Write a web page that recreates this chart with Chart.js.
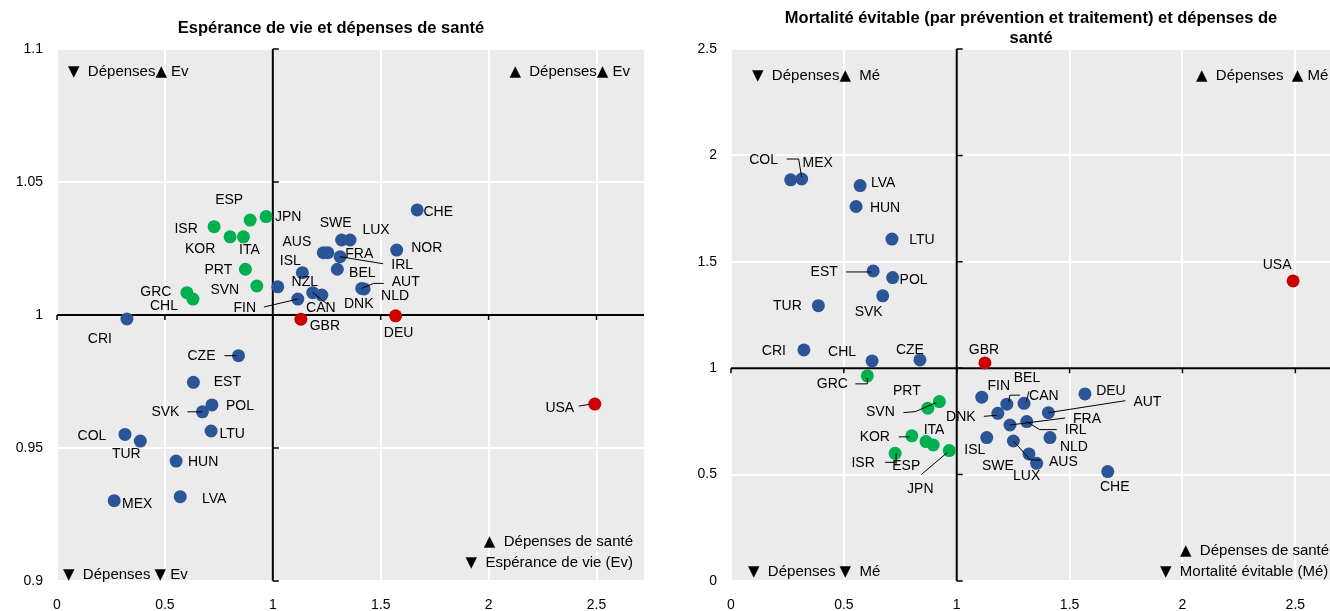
<!DOCTYPE html>
<html>
<head>
<meta charset="utf-8">
<script src="https://cdn.jsdelivr.net/npm/chart.js@4.4.1/dist/chart.umd.min.js"></script>
<style>
  html, body { margin: 0; padding: 0; background: #fff; overflow: hidden; width: 1330px; height: 611px; }
  #wrap { position: relative; width: 1330px; height: 611px; overflow: hidden; }
  #leChart { position: absolute; left: 0; top: 0; }
  #amChart { position: absolute; left: 674px; top: 0; }
</style>
</head>
<body>
<div id="wrap">
  <canvas id="leChart" width="665" height="611"></canvas>
  <canvas id="amChart" width="690" height="611"></canvas>
</div>
<script>
// Espérance de vie (ratio à la moyenne) vs dépenses de santé (ratio)
const leCountries = ['ESP','JPN','ISR','KOR','ITA','PRT','SVN','GRC','CHL','CRI','NZL','ISL','FIN','DNK','CAN','FRA','AUS','IRL','SWE','LUX','BEL','AUT','NLD','NOR','CHE','GBR','DEU','CZE','EST','POL','SVK','LTU','COL','TUR','HUN','MEX','LVA','USA'];
const leSpending = [0.895,0.969,0.728,0.802,0.864,0.873,0.926,0.602,0.630,0.324,1.023,1.137,1.116,1.185,1.227,1.234,1.255,1.312,1.319,1.358,1.299,1.412,1.423,1.574,1.669,1.130,1.569,0.841,0.632,0.718,0.674,0.714,0.315,0.386,0.552,0.265,0.571,2.492];
const leLifeExp = [1.0357,1.0370,1.0332,1.0294,1.0294,1.0172,1.0109,1.0084,1.0060,0.9985,1.0106,1.0159,1.0060,1.0084,1.0075,1.0234,1.0234,1.0219,1.0282,1.0282,1.0172,1.0100,1.0098,1.0244,1.0395,0.9984,0.9997,0.9847,0.9747,0.9662,0.9636,0.9564,0.9551,0.9526,0.9451,0.9302,0.9317,0.9665];
const leGroup = ['good','good','good','good','good','good','good','good','good','other','other','other','other','other','other','other','other','other','other','other','other','other','other','other','other','bad','bad','other','other','other','other','other','other','other','other','other','other','bad'];

// Mortalité évitable (ratio) vs dépenses de santé (ratio)
const amCountries = ['COL','MEX','LVA','HUN','LTU','EST','POL','SVK','TUR','CRI','CHL','CZE','GBR','USA','GRC','PRT','SVN','KOR','ITA','ESP','ISR','JPN','FIN','CAN','BEL','DNK','FRA','IRL','AUT','DEU','ISL','AUS','SWE','LUX','NLD','CHE'];
const amSpending = [0.313,0.2645,0.572,0.554,0.713,0.630,0.716,0.672,0.387,0.323,0.625,0.837,1.125,2.490,0.604,0.872,0.923,0.801,0.864,0.896,0.727,0.967,1.111,1.222,1.298,1.182,1.236,1.310,1.406,1.568,1.133,1.251,1.320,1.354,1.413,1.669];
const amMortality = [1.889,1.885,1.858,1.760,1.607,1.457,1.426,1.340,1.294,1.086,1.034,1.039,1.025,1.410,0.964,0.812,0.843,0.682,0.655,0.639,0.600,0.613,0.864,0.831,0.835,0.788,0.733,0.749,0.791,0.879,0.674,0.658,0.597,0.553,0.674,0.514];
const amGroup = ['other','other','other','other','other','other','other','other','other','other','other','other','bad','bad','good','good','good','good','good','good','good','good','other','other','other','other','other','other','other','other','other','other','other','other','other','other'];

const xTicks = [0, 0.5, 1, 1.5, 2, 2.5];

// label placement: [dx, dy, leader polylines] in pixels from the point
const leLabels = {
  ESP: [-21,-20], JPN: [22,1], ISR: [-28,2], KOR: [-30,12], ITA: [6,13], PRT: [-27,1], SVN: [-32,4],
  GRC: [-31,-1], CHL: [-29,7], CRI: [-27,20],
  FIN: [-53,9,[[[-34,8],[0,0]]]], NZL: [27,-5], ISL: [-12,-12], AUS: [-31,-11], SWE: [-6,-17], LUX: [26,-10],
  FRA: [36,1], IRL: [62,8,[[[0,0],[43,7]]]], BEL: [25,4], AUT: [44,-6,[[[0,0],[12,-5],[22,-5]]]], NLD: [31,7],
  DNK: [46,11,[[[0,0],[14,11]]]], CAN: [-1,13], NOR: [30,-2], CHE: [21,2], GBR: [24,7], DEU: [3,17],
  CZE: [-37,0,[[[-14,0],[-2,0]]]], EST: [34,0], POL: [28,1], SVK: [-37,0,[[[-15,0],[0,0]]]], LTU: [21,3],
  COL: [-33,2], TUR: [-14,13], HUN: [27,1], MEX: [23,3], LVA: [34,2], USA: [-35,4,[[[-16,2],[-4,0]]]]
};
const amLabels = {
  COL: [-38,-19,[[[-15,-20],[-3,-20],[0,-2]]]], MEX: [27,-17], LVA: [23,-2], HUN: [29,2], LTU: [30,1],
  EST: [-49,1,[[[-27,1],[-2,1]]]], POL: [21,3], SVK: [-14,16], TUR: [-31,1],
  CRI: [-30,1], CHL: [-30,-9], CZE: [-10,-10], GBR: [-1,-13], USA: [-16,-16],
  GRC: [-35,8,[[[-12,8],[0,8],[0,2]]]], PRT: [-21,-17], SVN: [-59,11,[[[-36,11],[-24,10],[-3,1]]]],
  KOR: [-37,1,[[[-13,1],[-2,1]]]], ITA: [8,-11], ESP: [-27,21],
  ISR: [-32,10,[[[-10,9],[1,9]],[[1,0],[1,12]]]], JPN: [-29,39,[[[-28,24],[-2,2]]]],
  FIN: [17,-11], CAN: [37,-8,[[[2,-2],[3,-9],[13,-9]]]], BEL: [3,-25,[[[2,-1],[5,-12]]]],
  DNK: [-37,4,[[[-14,3],[-1,2]]]], FRA: [77,-6,[[[0,0],[55,-7]]]], IRL: [49,9,[[[0,0],[13,8],[30,8]]]],
  AUT: [99,-11,[[[0,0],[77,-12]]]], DEU: [26,-3], ISL: [-12,13], AUS: [50,21,[[[0,0],[17,19],[27,19]]]],
  SWE: [-31,12], LUX: [-10,13], NLD: [24,10], CHE: [7,16]
};

const FONT = '"Liberation Sans", Arial, sans-serif';
const TRI_FONT = '15px "DejaVu Sans", sans-serif';
const NOTE_FONT = '15px ' + FONT;
const COLORS = { other: '#2c5597', good: '#00b050', bad: '#cc0000' };

Chart.defaults.font.family = FONT;
Chart.defaults.color = '#000';

const buildDatasets = (codes, xs, ys, groups) =>
  ['other', 'good', 'bad'].map(g => ({
    label: g,
    data: codes.map((c, i) => ({ x: xs[i], y: ys[i], code: c })).filter((p, i) => groups[i] === g),
    backgroundColor: COLORS[g],
    pointRadius: 6.5,
    pointHoverRadius: 6.5,
    borderWidth: 0
  }));

// draw a note where the triangles use a font with bigger glyphs
function drawNote(ctx, text, x, y, align) {
  const runs = text.split(/([▲▼])/).filter(s => s.length);
  const fontOf = s => (s === '▲' || s === '▼') ? TRI_FONT : NOTE_FONT;
  let total = 0;
  runs.forEach(s => { ctx.font = fontOf(s); total += ctx.measureText(s).width; });
  let cx = align === 'right' ? x - total : x;
  ctx.textAlign = 'left';
  runs.forEach(s => {
    ctx.font = fontOf(s);
    ctx.fillText(s, cx, y);
    cx += ctx.measureText(s).width;
  });
}

const decoPlugin = {
  id: 'deco',
  beforeDraw(chart) {
    const { ctx, chartArea: a } = chart;
    ctx.save();
    ctx.fillStyle = '#ebebeb';
    ctx.fillRect(a.left, a.top, a.right - a.left, a.bottom - a.top);
    ctx.restore();
  },
  beforeDatasetsDraw(chart, args, o) {
    const { ctx, chartArea: a, scales: { x, y } } = chart;
    const cx = x.getPixelForValue(1);
    const cy = y.getPixelForValue(1);
    ctx.save();
    ctx.strokeStyle = '#000';
    ctx.lineWidth = 2;
    ctx.beginPath();
    ctx.moveTo(cx, a.top); ctx.lineTo(cx, a.bottom);
    ctx.moveTo(a.left, cy); ctx.lineTo(a.right, cy);
    ctx.stroke();
    ctx.lineWidth = 1.5;
    ctx.beginPath();
    x.ticks.forEach(t => {
      const px = x.getPixelForValue(t.value);
      ctx.moveTo(px, cy); ctx.lineTo(px, cy + 5);
    });
    y.ticks.forEach(t => {
      const py = y.getPixelForValue(t.value);
      ctx.moveTo(cx, py); ctx.lineTo(cx + 6, py);
    });
    ctx.stroke();
    ctx.restore();
  },
  afterDatasetsDraw(chart, args, o) {
    const { ctx } = chart;
    ctx.save();
    ctx.font = '14px ' + FONT;
    ctx.fillStyle = '#000';
    ctx.strokeStyle = '#000';
    ctx.lineWidth = 1;
    ctx.textAlign = 'center';
    ctx.textBaseline = 'middle';
    chart.data.datasets.forEach((ds, di) => {
      chart.getDatasetMeta(di).data.forEach((pt, i) => {
        const code = ds.data[i].code;
        const p = o.labels[code];
        if (!p) return;
        ctx.fillText(code, pt.x + p[0], pt.y + p[1]);
        (p[2] || []).forEach(line => {
          ctx.beginPath();
          line.forEach(([dx, dy], k) => {
            if (k === 0) ctx.moveTo(pt.x + dx, pt.y + dy);
            else ctx.lineTo(pt.x + dx, pt.y + dy);
          });
          ctx.stroke();
        });
      });
    });
    ctx.restore();
  },
  afterDraw(chart, args, o) {
    const { ctx, chartArea: a } = chart;
    ctx.save();
    ctx.fillStyle = '#000';
    ctx.textBaseline = 'middle';
    ctx.font = 'bold 16.5px ' + FONT;
    ctx.textAlign = 'center';
    o.title.forEach((line, i) => ctx.fillText(line, o.titleX, o.titleY + i * 20));
    o.notes.forEach(n => drawNote(ctx, n.text, a.left + n.dx, a.top + n.dy, n.align));
    ctx.restore();
  }
};

const makeOptions = (yMin, yMax, yStep, rightPad, deco) => ({
  responsive: false,
  animation: false,
  events: [],
  layout: { padding: { top: 49, right: rightPad, left: 0, bottom: 0 } },
  plugins: { legend: { display: false }, tooltip: { enabled: false }, deco },
  scales: {
    x: {
      type: 'linear', min: 0, max: 2.72,
      afterBuildTicks: s => { s.ticks = xTicks.map(v => ({ value: v })); },
      afterFit: s => { s.height = 30; },
      ticks: { padding: 16, font: { size: 14 }, maxRotation: 0, autoSkip: false, callback: v => String(+v.toFixed(2)) },
      grid: { color: '#fff', lineWidth: 2, drawTicks: false },
      border: { display: false }
    },
    y: {
      type: 'linear', min: yMin, max: yMax,
      afterFit: s => { s.width = 57; },
      ticks: { stepSize: yStep, padding: 14, font: { size: 14 }, callback: v => String(+v.toFixed(2)) },
      grid: { color: '#fff', lineWidth: 2, drawTicks: false },
      border: { display: false }
    }
  }
});

new Chart(document.getElementById('leChart'), {
  type: 'scatter',
  data: { datasets: buildDatasets(leCountries, leSpending, leLifeExp, leGroup) },
  options: makeOptions(0.9, 1.1, 0.05, 21, {
    labels: leLabels,
    title: ['Espérance de vie et dépenses de santé'],
    titleX: 331, titleY: 28,
    notes: [
      { text: '▼  Dépenses▲ Ev', dx: 11, dy: 23, align: 'left' },
      { text: '▲  Dépenses▲ Ev', dx: 573, dy: 23, align: 'right' },
      { text: '▼  Dépenses ▼ Ev', dx: 6, dy: 526, align: 'left' },
      { text: '▲  Dépenses de santé', dx: 576, dy: 493, align: 'right' },
      { text: '▼  Espérance de vie (Ev)', dx: 576, dy: 514, align: 'right' }
    ]
  }),
  plugins: [decoPlugin]
});

new Chart(document.getElementById('amChart'), {
  type: 'scatter',
  data: { datasets: buildDatasets(amCountries, amSpending, amMortality, amGroup) },
  options: makeOptions(0, 2.5, 0.5, 19, {
    labels: amLabels,
    title: ['Mortalité évitable (par prévention et traitement) et dépenses de', 'santé'],
    titleX: 357, titleY: 18,
    notes: [
      { text: '▼  Dépenses▲  Mé', dx: 21, dy: 27, align: 'left' },
      { text: '▲  Dépenses  ▲ Mé', dx: 465, dy: 27, align: 'left' },
      { text: '▼  Dépenses ▼  Mé', dx: 17, dy: 523, align: 'left' },
      { text: '▲  Dépenses de santé', dx: 449, dy: 502, align: 'left' },
      { text: '▼  Mortalité évitable (Mé)', dx: 429, dy: 523, align: 'left' }
    ]
  }),
  plugins: [decoPlugin]
});
</script>
</body>
</html>
